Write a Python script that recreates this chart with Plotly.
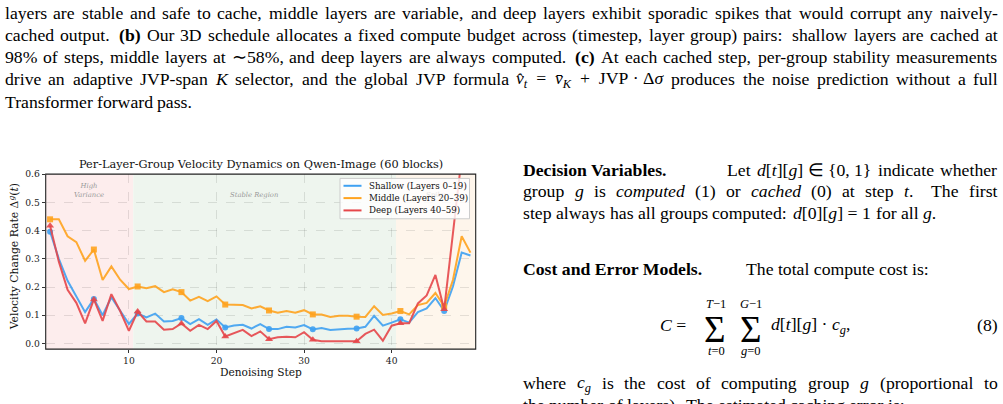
import os
import glob
import re
import plotly.graph_objects as go

W, H = 1003, 404

# ---------------- data ----------------
steps = list(range(1, 50))
shallow = [0.396, 0.30, 0.222, 0.165, 0.111, 0.158, 0.100, 0.164, 0.117, 0.069,
           0.106, 0.092, 0.106, 0.078, 0.080, 0.090, 0.069, 0.086, 0.066, 0.085,
           0.057, 0.064, 0.066, 0.053, 0.069, 0.051, 0.051, 0.059, 0.057, 0.065,
           0.050, 0.055, 0.048, 0.051, 0.052, 0.053, 0.059, 0.098, 0.063, 0.074,
           0.086, 0.074, 0.111, 0.124, 0.161, 0.115, 0.202, 0.322, 0.312]
middle = [0.440, 0.440, 0.380, 0.359, 0.293, 0.333, 0.225, 0.273, 0.226, 0.193,
          0.202, 0.196, 0.203, 0.182, 0.192, 0.182, 0.152, 0.165, 0.150, 0.167,
          0.138, 0.137, 0.136, 0.124, 0.132, 0.117, 0.109, 0.115, 0.109, 0.118,
          0.103, 0.103, 0.094, 0.098, 0.098, 0.095, 0.094, 0.132, 0.101, 0.106,
          0.115, 0.103, 0.136, 0.144, 0.179, 0.132, 0.225, 0.380, 0.322]
deep = [0.417, 0.290, 0.190, 0.144, 0.071, 0.156, 0.080, 0.175, 0.115, 0.045,
        0.113, 0.078, 0.078, 0.049, 0.051, 0.071, 0.045, 0.066, 0.051, 0.080,
        0.025, 0.037, 0.048, 0.026, 0.043, 0.015, 0.022, 0.024, 0.022, 0.040,
        0.013, 0.008, 0.008, 0.008, 0.008, 0.008, 0.034, 0.049, 0.010, 0.063,
        0.072, 0.072, 0.142, 0.170, 0.243, 0.121, 0.390, 0.660, 0.640]
series_names = ["Shallow (Layers 0–19)", "Middle (Layers 20–39)", "Deep (Layers 40–59)"]
region_bounds = [0.5, 10.5, 40.5, 49.6]
region_labels = ["High<br>Variance", "Stable Region", "Spiky"]
x_ticks = [10, 20, 30, 40]
y_ticks = [0.0, 0.1, 0.2, 0.3, 0.4, 0.5, 0.6]

# ---------------- styling ----------------
CF = "DejaVu Serif"
PF = "Liberation Serif"
colors = ["#3FA1F2", "#FFA31F", "#E6474B"]
symbols = ["circle", "square", "triangle-up"]
region_fill = ["rgb(253,237,237)", "rgb(238,245,238)", "rgb(254,246,236)"]

PL, PR, PT, PB = 45.7, 475.7, 170.7, 348.3


def fx(x):
    return x / W


def fy(y):
    return 1 - y / H


fig = go.Figure()
for name, vals, col, sym in zip(series_names, [shallow, middle, deep], colors, symbols):
    fig.add_trace(go.Scatter(x=steps, y=vals, mode="lines", name=name,
                             line=dict(color=col, width=2), opacity=0.9))
    fig.add_trace(go.Scatter(x=steps[::5], y=vals[::5], mode="markers", showlegend=False,
                             marker=dict(symbol=sym, size=6 if sym != "triangle-up" else 7,
                                         color=col), opacity=0.9))

shapes = []
for i in range(3):
    shapes.append(dict(type="rect", xref="x", yref="y domain",
                       x0=region_bounds[i], x1=region_bounds[i + 1], y0=0, y1=1,
                       fillcolor=region_fill[i], line=dict(width=0), layer="below"))
shapes.append(dict(type="rect", xref="paper", yref="paper",
                   x0=fx(PL), x1=fx(PR), y0=fy(PB), y1=fy(PT),
                   line=dict(color="#222", width=1.1), layer="above"))

ann = []
label_pos = [(5.4, 0.542), (24.3, 0.527), (45.0, 0.527)]
for (lx, ly), lt, op in zip(label_pos, region_labels, [1, 1, 0.3]):
    ann.append(dict(x=lx, y=ly, xref="x", yref="y", xanchor="center", yanchor="middle",
                    text="<i>" + lt + "</i>", showarrow=False,
                    font=dict(family=CF, size=6.8, color="#999999"), opacity=op))

# compact legend box
LX0, LX1, LY0, LY1 = 340, 469.5, 175, 216
shapes.append(dict(type="rect", xref="paper", yref="paper",
                   x0=fx(LX0), x1=fx(LX1), y0=fy(LY1), y1=fy(LY0),
                   fillcolor="rgba(255,255,255,0.82)", line=dict(color="#cccccc", width=1),
                   layer="above"))
for k, (name, col) in enumerate(zip(series_names, colors)):
    yy = 182.5 + k * 12.5
    shapes.append(dict(type="line", xref="paper", yref="paper",
                       x0=fx(343.5), x1=fx(361.5), y0=fy(yy), y1=fy(yy),
                       line=dict(color=col, width=2), layer="above"))
    ann.append(dict(x=fx(367), y=fy(yy), xref="paper", yref="paper", showarrow=False,
                    xanchor="left", yanchor="middle", text=name,
                    font=dict(family=CF, size=8.7, color="#111")))

ann.append(dict(x=fx(260.7), y=fy(161), xref="paper", yref="paper", showarrow=False,
                xanchor="center", yanchor="middle",
                text="Per-Layer-Group Velocity Dynamics on Qwen-Image (60 blocks)",
                font=dict(family=CF, size=11.3, color="#111")))
ann.append(dict(x=fx(260.7), y=fy(372), xref="paper", yref="paper", showarrow=False,
                xanchor="center", yanchor="middle",
                text="Denoising Step", font=dict(family=CF, size=10.6, color="#111")))
ann.append(dict(x=fx(14), y=fy(255), xref="paper", yref="paper", showarrow=False,
                xanchor="center", yanchor="middle", textangle=-90,
                text="Velocity Change Rate Δ<sup><i>g</i></sup>(<i>t</i>)",
                font=dict(family=CF, size=10.8, color="#111")))

# ---------------- page text (justified like the LaTeX source) ----------------
TS = 17.7

_font_cache = {}
HAVE_PIL = False
try:
    from PIL import ImageFont

    def _find(name):
        for root in ["/usr/share/fonts", "/usr/local/share/fonts",
                     os.path.expanduser("~/.fonts"), os.path.expanduser("~/.local/share/fonts")]:
            hits = glob.glob(os.path.join(root, "**", name), recursive=True)
            if hits:
                return hits[0]
        return None

    FONT_FILES = {(False, False): _find("LiberationSerif-Regular.ttf"),
                  (False, True): _find("LiberationSerif-Italic.ttf"),
                  (True, False): _find("LiberationSerif-Bold.ttf"),
                  (True, True): _find("LiberationSerif-BoldItalic.ttf")}
    HAVE_PIL = all(FONT_FILES.values())
except Exception:
    HAVE_PIL = False

TIMES = {"a": 444, "b": 500, "c": 444, "d": 500, "e": 444, "f": 333, "g": 500, "h": 500,
         "i": 278, "j": 278, "k": 500, "l": 278, "m": 778, "n": 500, "o": 500, "p": 500,
         "q": 500, "r": 333, "s": 389, "t": 278, "u": 500, "v": 500, "w": 722, "x": 500,
         "y": 500, "z": 444, "A": 722, "B": 667, "C": 667, "D": 722, "E": 611, "F": 556,
         "G": 722, "H": 722, "I": 333, "J": 389, "K": 722, "L": 611, "M": 889, "N": 722,
         "O": 722, "P": 556, "Q": 722, "R": 667, "S": 556, "T": 611, "U": 722, "V": 722,
         "W": 944, "X": 722, "Y": 722, "Z": 611, ",": 250, ".": 250, ":": 278, ";": 278,
         "(": 333, ")": 333, "-": 333, "%": 833, "[": 333, "]": 333, "{": 480, "}": 480,
         "=": 564, "+": 564, "∈": 667, "∼": 541, "·": 250, "Δ": 612, "σ": 550,
         "\u00a0": 250, "\u2009": 200, "\u2002": 500}


def measure(text, b, i, size):
    if HAVE_PIL:
        key = (b, i)
        if key not in _font_cache:
            _font_cache[key] = ImageFont.truetype(FONT_FILES[key], 1000)
        return _font_cache[key].getlength(text) / 1000.0 * size
    w = 0
    for ch in text:
        if "\u0300" <= ch <= "\u036f":
            continue
        w += TIMES.get(ch, 500)
    return w / 1000.0 * size * (1.04 if b else 1.0)


def parse(html):
    chars = []
    b = it = sub = False
    for m in re.finditer(r"<(/?)(b|i|sub)>|([^<]+)", html):
        if m.group(3):
            for ch in m.group(3):
                chars.append((ch, (b, it, sub)))
        else:
            val = m.group(1) != "/"
            tag = m.group(2)
            if tag == "b":
                b = val
            elif tag == "i":
                it = val
            else:
                sub = val
    return chars


def split_words(chars):
    words, cur = [], []
    for ch, st in chars:
        if ch == " ":
            if cur:
                words.append(cur)
                cur = []
        else:
            cur.append((ch, st))
    if cur:
        words.append(cur)
    return words


def runs(word):
    out = []
    for ch, st in word:
        if out and out[-1][1] == st:
            out[-1][0] += ch
        else:
            out.append([ch, st])
    return out


def html_of(word):
    s = ""
    for t, (b, it, sub) in runs(word):
        if it:
            t = "<i>" + t + "</i>"
        if b:
            t = "<b>" + t + "</b>"
        if sub:
            t = "<sub>" + t + "</sub>"
        s += t
    return s


def word_width(word, size):
    return sum(measure(t, b, it, size * (0.7 if sub else 1.0)) for t, (b, it, sub) in runs(word))


def put(x, y, text, anchor="left", size=TS):
    ann.append(dict(x=fx(x), y=fy(y), xref="paper", yref="paper", showarrow=False,
                    text=text, xanchor=anchor, yanchor="middle", borderpad=0, borderwidth=0,
                    font=dict(family=PF, size=size, color="#000")))


def text_line(x0, x1, y, html, justify=True, size=TS):
    words = split_words(parse(html))
    widths = [word_width(w, size) for w in words]
    plain = ["".join(c for c, _ in w) for w in words]
    gaps, weights = [], []
    for p in plain[:-1]:
        if p.endswith((".", ":")):
            gaps.append(0.36 * size)
            weights.append(2.0)
        elif p.endswith(","):
            gaps.append(0.25 * size)
            weights.append(1.25)
        else:
            gaps.append(0.25 * size)
            weights.append(1.0)
    if justify and len(words) > 1:
        slack = (x1 - x0) - sum(widths) - sum(gaps)
        tw = sum(weights)
        gaps = [g + slack * wt / tw for g, wt in zip(gaps, weights)]
    x = x0
    for k, w in enumerate(words):
        put(x, y, html_of(w), size=size)
        x += widths[k] + (gaps[k] if k < len(gaps) else 0)


NB = "\u00a0"
EN = "\u2002"
formula = ("<i>v̂</i><sub><i>t</i></sub>" + EN + "=" + EN + "<i>v̄</i><sub><i>K</i></sub>"
           + EN + "+" + EN + "JVP" + NB + "·" + NB + "Δ<i>σ</i>")

left_lines = [
    (7, "layers are stable and safe to cache, middle layers are variable, and deep layers exhibit sporadic spikes that would corrupt any naively-", True),
    (29.5, "cached output. <b>(b)</b> Our 3D schedule allocates a fixed compute budget across (timestep, layer group) pairs: shallow layers are cached at", True),
    (52, "98% of steps, middle layers at ∼58%, and deep layers are always computed. <b>(c)</b> At each cached step, per-group stability measurements", True),
    (74.5, "drive an adaptive JVP-span <i>K</i> selector, and the global JVP formula " + formula + " produces the noise prediction without a full", True),
    (97, "Transformer forward pass.", False),
]
for y, txt, just in left_lines:
    text_line(4.5, 997.5, y, txt, justify=just)

put(523, 166, "<b>Decision Variables.</b>")
text_line(727, 997.5, 166, "Let <i>d</i>[<i>t</i>][<i>g</i>]" + NB + "∈" + NB + "{0, 1} indicate whether")
text_line(523, 997.5, 188, "group <i>g</i> is <i>computed</i> (1) or <i>cached</i> (0) at step <i>t</i>. The first")
text_line(523, 997.5, 210, "step always has all groups computed: <i>d</i>[0][<i>g</i>]" + NB + "=" + NB + "1 for all <i>g</i>.", justify=False)
put(523, 266.5, "<b>Cost and Error Models.</b>")
put(746, 266.5, "The total compute cost is:")

# displayed equation (8)
put(660, 324, "<i>C</i> =")
put(714.5, 328, "Σ", anchor="center", size=37)
put(750.5, 328, "Σ", anchor="center", size=37)
put(716, 302, "<i>T</i>−1", anchor="center", size=12.5)
put(751, 302, "<i>G</i>−1", anchor="center", size=12.5)
put(716, 350.5, "<i>t</i>=0", anchor="center", size=12.5)
put(751, 350.5, "<i>g</i>=0", anchor="center", size=12.5)
put(771, 324, "<i>d</i>[<i>t</i>][<i>g</i>] · <i>c</i><sub><i>g</i></sub>,")
put(997.5, 324, "(8)", anchor="right")

text_line(523, 997.5, 383, "where <i>c</i><sub><i>g</i></sub> is the cost of computing group <i>g</i> (proportional to")
text_line(523, 997.5, 405.5, "the number of layers). The estimated caching error is:", justify=False)

fig.update_layout(
    width=W, height=H,
    margin=dict(l=0, r=0, t=0, b=0),
    paper_bgcolor="white", plot_bgcolor="white",
    shapes=shapes, annotations=ann,
    showlegend=False,
    xaxis=dict(domain=[fx(PL), fx(PR)], range=[region_bounds[0], region_bounds[-1]],
               tickvals=x_ticks, ticks="outside", ticklen=3, tickcolor="#333",
               tickfont=dict(family=CF, size=9.2, color="#222"),
               showgrid=True, gridcolor="rgba(0,0,0,0.10)", griddash="dash", gridwidth=0.8,
               zeroline=False, showline=False),
    yaxis=dict(domain=[fy(PB), fy(PT)], range=[-0.02, 0.6],
               tickvals=y_ticks, tickformat=".1f", ticks="outside", ticklen=3,
               tickcolor="#333", tickfont=dict(family=CF, size=9.2, color="#222"),
               showgrid=True, gridcolor="rgba(0,0,0,0.10)", griddash="dash", gridwidth=0.8,
               zeroline=False, showline=False),
)

fig.write_html("out.html")
